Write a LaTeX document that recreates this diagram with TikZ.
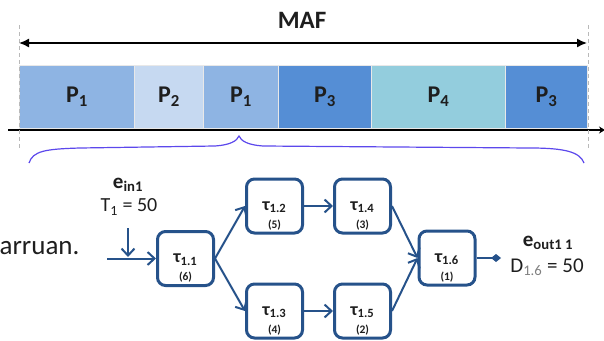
\documentclass[tikz,border=0pt]{standalone}
\usepackage{fontspec}
\setmainfont{Carlito}
\usetikzlibrary{arrows.meta}
\definecolor{pone}{RGB}{142,180,227}
\definecolor{ptwo}{RGB}{198,217,241}
\definecolor{pthree}{RGB}{85,142,213}
\definecolor{pfour}{RGB}{147,205,221}
\definecolor{nodeblue}{RGB}{38,82,138}
\definecolor{bracecol}{RGB}{92,72,236}
\definecolor{txtdark}{RGB}{30,30,30}
\newcommand{\fsz}[1]{\fontsize{#1}{#1}\selectfont}
% task name on top, priority below; the strut keeps the name near the box middle
\newcommand{\taulabel}[2]{{\fsz{18}\bfseries\rule{0pt}{28pt}τ\textsubscript{#1}}\\[6pt]{\fsz{11.5}\bfseries (#2)}}
\begin{document}
\begin{tikzpicture}[x=1pt,y=-1pt,
  slot/.style={draw=white!82!gray, line width=0.8pt, minimum height=63pt,
    inner sep=0pt, anchor=west, font=\fsz{24}\bfseries, text=txtdark},
  taubox/.style={draw=nodeblue, line width=3pt, rounded corners=8pt,
    minimum width=56pt, minimum height=54pt, inner sep=0pt, align=center,
    text=txtdark},
  flow/.style={draw=nodeblue, line width=2pt,
    -{Straight Barb[length=7pt,width=13pt,line width=2pt]}},
  guide/.style={draw=gray!55, line width=1pt, dash pattern=on 4pt off 3pt}]
\useasboundingbox (0,0) rectangle (604,340);

% time line with the partition windows
\node[slot, fill=pone,   minimum width=115pt] (w1) at (19,96.5)  {P\textsubscript{1}};
\node[slot, fill=ptwo,   minimum width=69pt]  (w2) at (134,96.5) {P\textsubscript{2}};
\node[slot, fill=pone,   minimum width=75pt]  (w3) at (203,96.5) {P\textsubscript{1}};
\node[slot, fill=pthree, minimum width=93pt]  (w4) at (278,96.5) {P\textsubscript{3}};
\node[slot, fill=pfour,  minimum width=134pt] (w5) at (371,96.5) {P\textsubscript{4}};
\node[slot, fill=pthree, minimum width=82pt]  (w6) at (505,96.5) {P\textsubscript{3}};

\coordinate (axL) at (8,130);
\coordinate (axR) at (605,130);
\draw[line width=2.4pt, -{Stealth[length=6pt,width=7pt]}] (axL) -- (axR);

% major frame
\coordinate (gL1) at (19,25);  \coordinate (gL2) at (19,150);
\coordinate (gR1) at (588,25); \coordinate (gR2) at (588,150);
\draw[guide] (gL1) -- (gL2);
\draw[guide] (gR1) -- (gR2);
\coordinate (mafL) at (19,43);
\coordinate (mafR) at (587,43);
\draw[line width=1.5pt, {Latex[length=10pt,width=9pt]}-{Latex[length=10pt,width=9pt]}] (mafL) -- (mafR);
\node[font=\fsz{25}\bfseries, text=txtdark] (maf) at (302,20) {MAF};

% brace spanning the frame
\draw[bracecol, line width=1.2pt]
  (29,163) .. controls (33,151) and (45,149) .. (80,148) -- (215,146)
  .. controls (230,145) and (237,141) .. (239,136)
  .. controls (241,141) and (248,145) .. (263,146) -- (530,148)
  .. controls (565,148) and (580,152) .. (584,163);

% task graph
\node[taubox] (t11) at (185.5,258.5) {\taulabel{1.1}{6}};
\node[taubox] (t12) at (274.5,206)   {\taulabel{1.2}{5}};
\node[taubox] (t13) at (274.5,311)   {\taulabel{1.3}{4}};
\node[taubox] (t14) at (362.5,206)   {\taulabel{1.4}{3}};
\node[taubox] (t15) at (362.5,311)   {\taulabel{1.5}{2}};
\node[taubox] (t16) at (447,258)     {\taulabel{1.6}{1}};

\draw[flow] (t11.east) -- (t12.west);
\draw[flow] (t11.east) -- (t13.west);
\draw[flow] (t12.east) -- (t14.west);
\draw[flow] (t13.east) -- (t15.west);
\draw[flow] (t14.east) -- (t16.west);
\draw[flow] (t15.east) -- (t16.west);

% input event
\coordinate (inL) at (107,258.5);
\coordinate (evTop) at (128,228);
\coordinate (evBot) at (128,257);
\draw[flow] (inL) -- (t11.west);
\draw[flow] (evTop) -- (evBot);
\node[font=\fsz{21}\bfseries, text=txtdark] (ein) at (128,185) {e\textsubscript{in1}};
\node[font=\fsz{20}, text=txtdark] (tper) at (129,207) {T\textsubscript{1} = 50};

% output event
\coordinate (outEnd) at (501,258);
\draw[draw=nodeblue, line width=2pt, -{Diamond[length=10pt,width=8pt]}] (t16.east) -- (outEnd);
\node[font=\fsz{21}\bfseries, text=txtdark] (eout) at (548,243) {e\textsubscript{out1 1}};
\node[font=\fsz{21}, text=txtdark] (dl) at (547,267) {D\textsubscript{\color{gray}1.6} = 50};

% clipped sentence at the left margin
\node[font=\fsz{27}, text=txtdark, anchor=east] (frag) at (83,248) {arruan.};
\end{tikzpicture}
\end{document}
